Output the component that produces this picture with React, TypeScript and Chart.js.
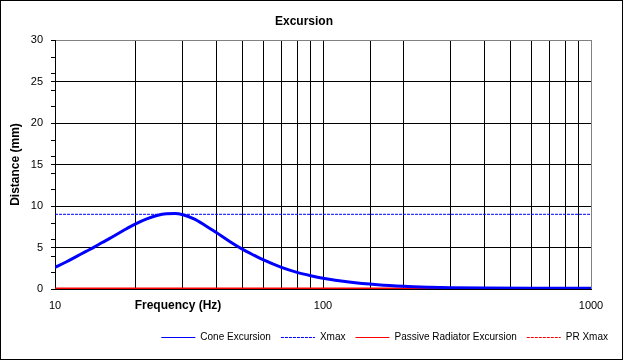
import React, { useEffect, useRef } from 'react';
import Chart from 'chart.js/auto';

const FONT = 'Arial, "Liberation Sans", sans-serif';

const TITLE = 'Excursion';
const X_TITLE = 'Frequency (Hz)';
const Y_TITLE = 'Distance (mm)';

// Cone excursion curve (Hz -> mm)
const frequencies = [10, 11, 12, 13, 14, 15, 16, 18, 20, 22, 24, 26, 28, 30, 33, 36, 40, 45, 50, 55, 60, 70, 80, 90, 100, 125, 160, 200, 250, 300, 400, 600, 1000];
const coneExcursion = [2.6, 3.25, 3.9, 4.5, 5.05, 5.6, 6.1, 7.05, 7.85, 8.45, 8.85, 9.07, 9.1, 8.95, 8.45, 7.75, 6.8, 5.7, 4.8, 4.1, 3.5, 2.6, 2.0, 1.6, 1.3, 0.85, 0.52, 0.33, 0.22, 0.16, 0.12, 0.1, 0.1];

// Flat series (Hz endpoints -> mm)
const flatFrequencies = [10, 1000];
const xmax = [9, 9];
const prExcursion = [0, 0];
const prXmax = [0, 0];

const xTickLabels = [10, 100, 1000];
const Y_MIN = 0;
const Y_MAX = 30;
const Y_STEP = 5;
const Y_MINOR_STEP = 2;

const BLUE = '#0000FF';
const RED = '#FF0000';
const GRAY = '#808080';

const pts = (xs: number[], ys: number[]) => xs.map((x, i) => ({ x, y: ys[i] }));

const decorations = {
  id: 'decorations',
  afterDraw(chart: any) {
    const { ctx, chartArea, scales } = chart;
    const y = scales.y;
    ctx.save();
    ctx.strokeStyle = '#000';
    ctx.lineWidth = 1;
    ctx.setLineDash([]);
    ctx.strokeRect(0.5, 0.5, 622, 359);
    ctx.beginPath();
    for (let v = Y_MIN; v <= Y_MAX; v += Y_MINOR_STEP) {
      if (v % Y_STEP === 0) continue;
      const py = Math.round(y.getPixelForValue(v)) + 0.5;
      ctx.moveTo(chartArea.left - 4, py);
      ctx.lineTo(chartArea.left, py);
    }
    ctx.stroke();
    ctx.fillStyle = '#000';
    ctx.textAlign = 'center';
    ctx.textBaseline = 'middle';
    ctx.font = `bold 12px ${FONT}`;
    ctx.fillText(TITLE, 304, 22);
    ctx.fillText(X_TITLE, 178, 306);
    ctx.translate(16, (chartArea.top + chartArea.bottom) / 2);
    ctx.rotate(-Math.PI / 2);
    ctx.fillText(Y_TITLE, 0, 0);
    ctx.restore();
  },
};

export default function App() {
  const ref = useRef<HTMLCanvasElement>(null);
  useEffect(() => {
    Chart.defaults.font.family = FONT;
    Chart.defaults.color = '#000';
    const chart = new Chart(ref.current as HTMLCanvasElement, {
      type: 'line',
      data: {
        datasets: [
          { label: 'Cone Excursion', data: pts(frequencies, coneExcursion), borderColor: BLUE, backgroundColor: BLUE, borderWidth: 3, pointRadius: 0, cubicInterpolationMode: 'monotone', fill: false },
          { label: 'Xmax', data: pts(flatFrequencies, xmax), borderColor: BLUE, backgroundColor: BLUE, borderWidth: 1, borderDash: [3, 1], pointRadius: 0, fill: false },
          { label: 'Passive Radiator Excursion', data: pts(flatFrequencies, prExcursion), borderColor: RED, backgroundColor: RED, borderWidth: 3, pointRadius: 0, fill: false },
          { label: 'PR Xmax', data: pts(flatFrequencies, prXmax), borderColor: RED, backgroundColor: RED, borderWidth: 1, borderDash: [3, 1], pointRadius: 0, fill: false },
        ],
      },
      options: {
        responsive: false,
        animation: false,
        devicePixelRatio: 1,
        layout: { padding: { top: 40, bottom: 10.5, left: 0, right: 7 } },
        scales: {
          x: {
            type: 'logarithmic',
            min: 10,
            max: 1000,
            grid: { color: (c: any) => (c.tick && c.tick.value === 1000 ? GRAY : '#000'), drawTicks: false },
            border: { color: '#000' },
            ticks: {
              autoSkip: false,
              maxRotation: 0,
              padding: 10,
              color: '#000',
              font: { size: 11 },
              callback: (v: any) => (xTickLabels.includes(Number(v)) ? String(v) : ''),
            },
            afterFit: (s: any) => { s.height = 33.5; },
          },
          y: {
            min: Y_MIN,
            max: Y_MAX,
            ticks: { stepSize: Y_STEP, padding: 8, color: '#000', font: { size: 11 } },
            grid: { color: (c: any) => (c.tick && c.tick.value === Y_MAX ? GRAY : '#000'), tickColor: '#000', tickLength: 4 },
            border: { color: '#000' },
            afterFit: (s: any) => { s.width = 55; },
          },
          y2: {
            position: 'right',
            display: true,
            grid: { display: false, drawTicks: false },
            ticks: { display: false },
            border: { display: false },
            afterFit: (s: any) => { s.width = 27; },
          },
        },
        plugins: {
          title: { display: false },
          tooltip: { enabled: false },
          legend: {
            position: 'bottom',
            align: 'end',
            labels: {
              usePointStyle: true,
              pointStyle: 'line',
              pointStyleWidth: 34,
              padding: 10,
              color: '#000',
              font: { size: 10 },
              generateLabels: (ch: any) => {
                const items = (Chart.defaults.plugins.legend.labels as any).generateLabels(ch);
                items.forEach((it: any) => {
                  const ds = ch.data.datasets[it.datasetIndex];
                  it.lineWidth = 1;
                  it.strokeStyle = ds.borderColor;
                  it.lineDash = ds.borderDash || [];
                });
                return items;
              },
            },
          },
        },
      } as any,
      plugins: [decorations],
    });
    return () => chart.destroy();
  }, []);
  return (
    <div style={{ position: 'absolute', left: 0, top: 0, width: 625, height: 363, background: '#fff' }}>
      <canvas ref={ref} width={625} height={363} style={{ display: 'block' }} />
    </div>
  );
}
